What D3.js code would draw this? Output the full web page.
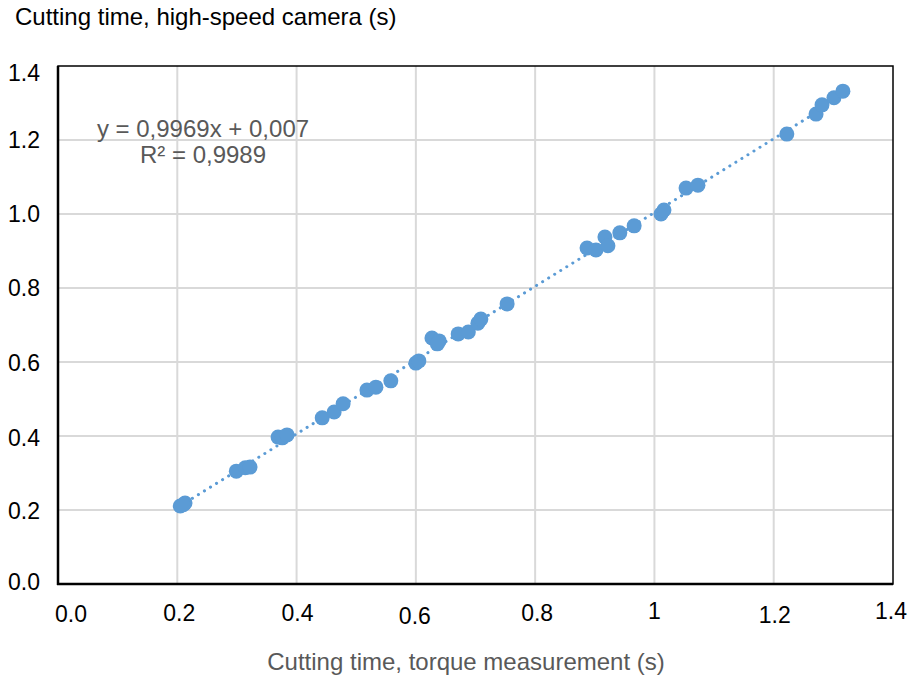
<!DOCTYPE html>
<html>
<head>
<meta charset="utf-8">
<script src="https://cdn.jsdelivr.net/npm/d3@7/dist/d3.min.js"></script>
<style>
  body { margin: 0; background: #fff; }
  text { font-family: "Liberation Sans", Arial, sans-serif; }
</style>
</head>
<body>
<svg id="svg" width="909" height="681"></svg>
<script>
// cutting time measured by torque (x) and by high-speed camera (y), seconds
var torqueTime = [0.205, 0.213, 0.210, 0.299, 0.314, 0.322, 0.369, 0.376, 0.384,
  0.443, 0.463, 0.478, 0.518, 0.533, 0.558, 0.600, 0.605, 0.627, 0.639, 0.636,
  0.671, 0.688, 0.704, 0.709, 0.753, 0.887, 0.902, 0.917, 0.922, 0.942, 0.966,
  1.011, 1.016, 1.053, 1.073, 1.222, 1.271, 1.281, 1.301, 1.316];
var cameraTime = [0.211, 0.219, 0.214, 0.305, 0.314, 0.316, 0.397, 0.395, 0.403,
  0.449, 0.465, 0.487, 0.524, 0.532, 0.549, 0.597, 0.603, 0.665, 0.657, 0.649,
  0.676, 0.681, 0.705, 0.716, 0.757, 0.908, 0.903, 0.938, 0.914, 0.949, 0.968,
  1.000, 1.011, 1.070, 1.078, 1.216, 1.270, 1.295, 1.314, 1.332];

// linear trendline as reported on the chart
var slope = 0.9969, intercept = 0.007;
var eqLines = ["y = 0,9969x + 0,007", "R\u00b2 = 0,9989"];

var xTicks = [0, 0.2, 0.4, 0.6, 0.8, 1, 1.2, 1.4];
var xTickLabels = ["0.0", "0.2", "0.4", "0.6", "0.8", "1", "1.2", "1.4"];
var yTicks = [0, 0.2, 0.4, 0.6, 0.8, 1.0, 1.2, 1.4];

var svg = d3.select("#svg");
var margin = {left: 58, right: 16, top: 66, bottom: 97};
var width = 909 - margin.left - margin.right;
var height = 681 - margin.top - margin.bottom;
var blue = "#5B9BD5";

var x = d3.scaleLinear().domain([0, 1.4]).range([margin.left, margin.left + width]);
var y = d3.scaleLinear().domain([0, 1.4]).range([margin.top + height, margin.top]);

// gridlines
svg.append("g").selectAll("line.vg")
  .data(xTicks.slice(1, -1)).enter().append("line")
  .attr("x1", d => x(d)).attr("x2", d => x(d))
  .attr("y1", y(0)).attr("y2", y(1.4))
  .style("stroke", "#d9d9d9").style("stroke-width", 2);
svg.append("g").selectAll("line.hg")
  .data(yTicks.slice(1, -1)).enter().append("line")
  .attr("x1", x(0)).attr("x2", x(1.4))
  .attr("y1", d => y(d)).attr("y2", d => y(d))
  .style("stroke", "#d9d9d9").style("stroke-width", 2);

// frame
svg.append("rect")
  .attr("x", x(0)).attr("y", y(1.4))
  .attr("width", width).attr("height", height)
  .style("fill", "none").style("stroke", "#000").style("stroke-width", 1.5);
svg.append("line")
  .attr("x1", x(0)).attr("x2", x(0)).attr("y1", y(1.4)).attr("y2", y(0) + 1)
  .style("stroke", "#000").style("stroke-width", 2.5);
svg.append("line")
  .attr("x1", x(0) - 1).attr("x2", x(1.4)).attr("y1", y(0)).attr("y2", y(0))
  .style("stroke", "#000").style("stroke-width", 2.5);

// tick labels (Excel places them slightly irregularly)
var xNudge = [[13, 0], [2, -1], [1, -1], [-1, 2], [2, -1], [0, -3], [1, 1], [-2, -3]];
svg.append("g").selectAll("text")
  .data(xTicks).enter().append("text")
  .attr("x", (d, i) => x(d) + xNudge[i][0])
  .attr("y", (d, i) => 622 + xNudge[i][1])
  .attr("text-anchor", "middle")
  .style("font-size", "23px").style("fill", "#000")
  .text((d, i) => xTickLabels[i]);

var yNudge = [6, 9, 10, 9, 8, 8, 8, 15];
svg.append("g").selectAll("text")
  .data(yTicks).enter().append("text")
  .attr("x", 40)
  .attr("y", (d, i) => y(d) + yNudge[i])
  .attr("text-anchor", "end")
  .style("font-size", "23px").style("fill", "#000")
  .text(d => d3.format(".1f")(d));

// trendline
var xMin = d3.min(torqueTime), xMax = d3.max(torqueTime);
svg.append("line")
  .attr("x1", x(xMin)).attr("y1", y(slope * xMin + intercept))
  .attr("x2", x(xMax)).attr("y2", y(slope * xMax + intercept))
  .style("stroke", blue).style("stroke-width", 3)
  .style("stroke-linecap", "round").style("stroke-dasharray", "0.1,7");

// points
svg.append("g").selectAll("circle")
  .data(torqueTime).enter().append("circle")
  .attr("cx", d => x(d))
  .attr("cy", (d, i) => y(cameraTime[i]))
  .attr("r", 7.5)
  .style("fill", blue);

// equation
svg.append("g").selectAll("text")
  .data(eqLines).enter().append("text")
  .attr("x", 203)
  .attr("y", (d, i) => 137 + i * 26)
  .attr("text-anchor", "middle")
  .style("font-size", "24px").style("fill", "#595959")
  .text(d => d);

// axis titles
svg.append("text")
  .attr("x", 15).attr("y", 25)
  .style("font-size", "24px").style("fill", "#000")
  .text("Cutting time, high-speed camera (s)");
svg.append("text")
  .attr("x", 466).attr("y", 670)
  .attr("text-anchor", "middle")
  .style("font-size", "24px").style("fill", "#595959")
  .text("Cutting time, torque measurement (s)");
</script>
</body>
</html>
